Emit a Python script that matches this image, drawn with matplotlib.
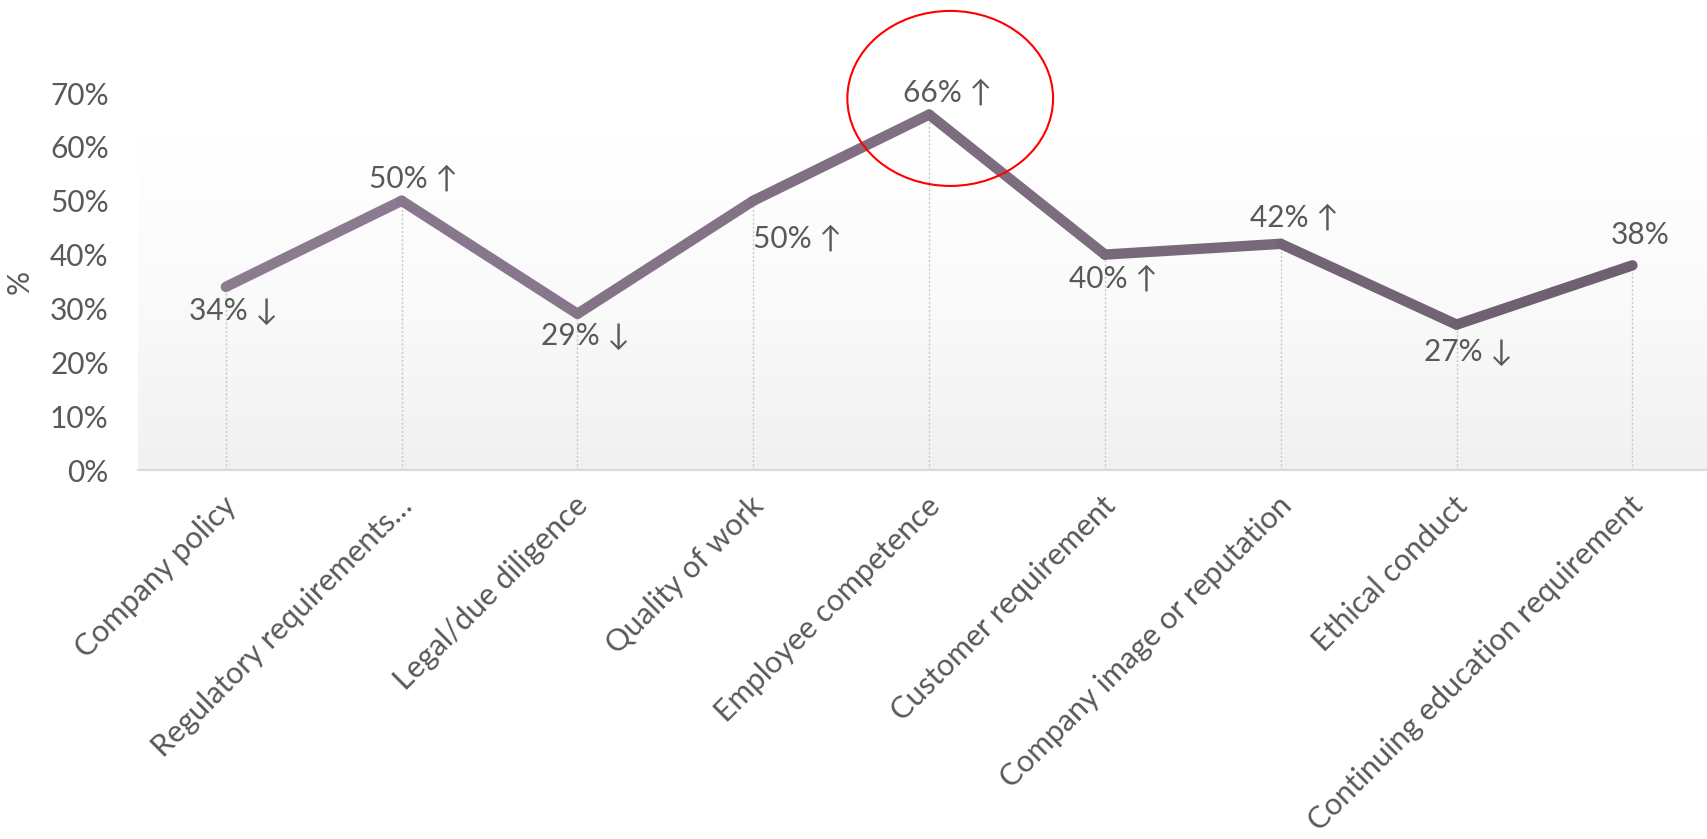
import numpy as np
import matplotlib
matplotlib.use('agg')
import matplotlib.pyplot as plt
from matplotlib.collections import LineCollection
from matplotlib.patches import Ellipse
from matplotlib.colors import LinearSegmentedColormap
from matplotlib.transforms import ScaledTranslation

categories = ['Company policy', 'Regulatory requirements…', 'Legal/due diligence',
              'Quality of work', 'Employee competence', 'Customer requirement',
              'Company image or reputation', 'Ethical conduct',
              'Continuing education requirement']
values = [34, 50, 29, 50, 66, 40, 42, 27, 38]
arrows = ['↓', '↑', '↓', '↑', '↑', '↑', '↑', '↓', '']
y_ticks = [0, 10, 20, 30, 40, 50, 60, 70]

# label offsets from each point, in pixels (x right, y up)
label_dx = [8, 12, 8, 44, 18, 8, 14, 12, 8]
label_dy = [-24, 22, -22, -38, 22, -24, 26, -27, 30]

TEXT = '#595959'
plt.rcParams['font.family'] = ['Lato', 'DejaVu Sans']
FS = 21.5

fig = plt.figure(figsize=(17.07, 8.39), dpi=100)
ax = fig.add_axes([0.0808, 0.4398, 0.927, 0.4493])

x = np.arange(len(categories))
ax.set_xlim(-0.5, len(categories) - 0.5)
ax.set_ylim(0, 70)

# background gradient: white at top, light grey at the bottom
grad = np.linspace(0, 1, 256).reshape(-1, 1)
bg_cmap = LinearSegmentedColormap.from_list('bg', ['#f1f1f1', '#fafafa', '#ffffff'])
ax.imshow(grad, cmap=bg_cmap, aspect='auto', origin='lower',
          extent=(-0.5, len(categories) - 0.5, 0, 62), zorder=0)

# drop lines
ax.vlines(x, 0, values, colors='#c8c8c8', linestyles=(0, (1.5, 1.5)), linewidth=1, zorder=1)

# line with a colour shift from left to right
pts = np.column_stack([x, values]).reshape(-1, 1, 2)
segs = np.concatenate([pts[:-1], pts[1:]], axis=1)
line_cmap = LinearSegmentedColormap.from_list('ln', ['#8c7b90', '#6f6071'])
lc = LineCollection(segs, cmap=line_cmap, linewidth=7.5, capstyle='round',
                    joinstyle='round', zorder=3)
lc.set_array(np.linspace(0, 1, len(segs)))
ax.add_collection(lc)

for xi, v, a, dx, dy in zip(x, values, arrows, label_dx, label_dy):
    txt = f'{v}% {a}'.strip()
    ax.annotate(txt, (xi, v), xytext=(dx * 0.72, dy * 0.72),
                textcoords='offset points', ha='center', va='center',
                fontsize=FS, color=TEXT, zorder=4)

# highlight around the peak
ax.add_patch(Ellipse((4.12, 69.0), 1.17, 32.5, fill=False, edgecolor='#ff0000',
                     linewidth=1.5, clip_on=False, zorder=5))

ax.set_yticks(y_ticks)
ax.set_yticklabels([f'{t}%' for t in y_ticks], fontsize=FS, color=TEXT)
ax.set_xticks(x)
ax.set_xticklabels(categories, fontsize=22, color=TEXT, rotation=45,
                   ha='right', va='center', rotation_mode='anchor')
ax.tick_params(axis='both', length=0)
ax.tick_params(axis='y', pad=21)
ax.tick_params(axis='x', pad=8)
off = ScaledTranslation(6 / 100, -20 / 100, fig.dpi_scale_trans)
for lab in ax.get_xticklabels():
    lab.set_transform(lab.get_transform() + off)
ax.set_ylabel('%', fontsize=FS, color=TEXT)
ax.yaxis.set_label_coords(-0.066, 0.5)

for s in ['top', 'right', 'left']:
    ax.spines[s].set_visible(False)
ax.spines['bottom'].set_color('#d9d9d9')
ax.spines['bottom'].set_linewidth(1.5)

fig.savefig('out.png', dpi=100)
